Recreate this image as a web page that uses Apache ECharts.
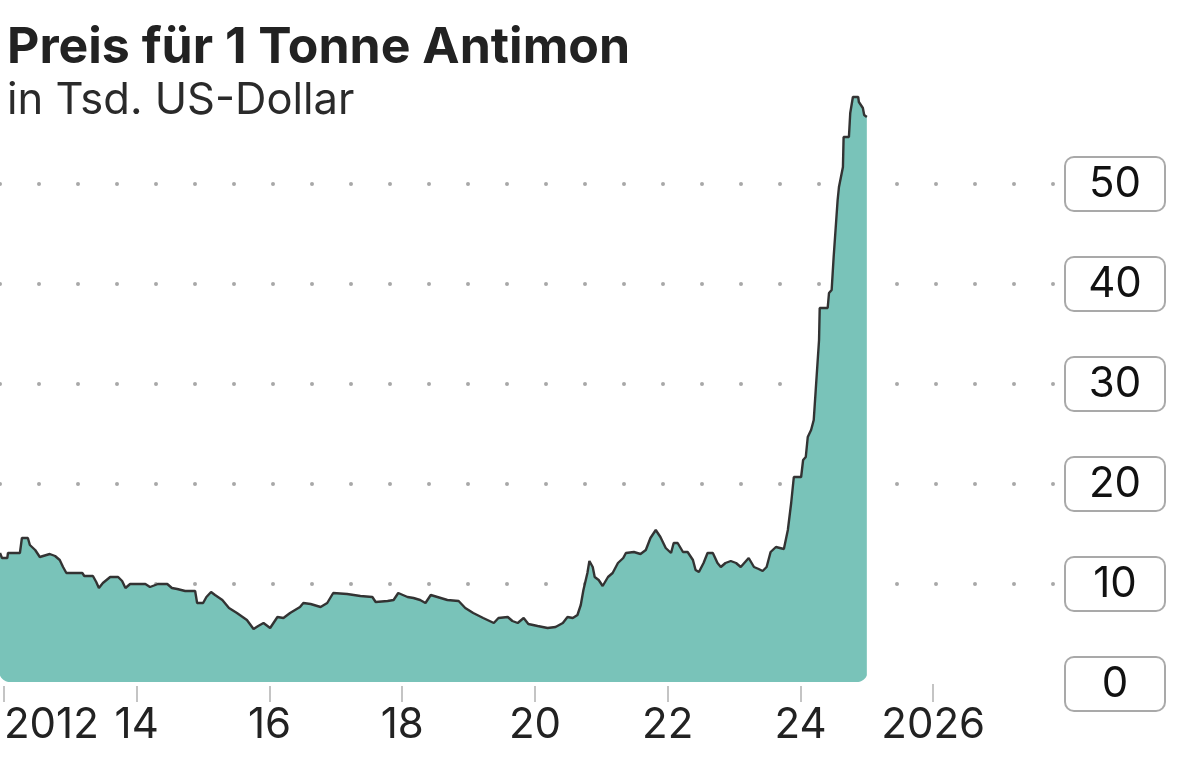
<!DOCTYPE html>
<html>
<head>
<meta charset="utf-8">
<script src="https://cdn.jsdelivr.net/npm/echarts@6/dist/echarts.min.js"></script>
<style>
html,body{margin:0;padding:0;background:#fff;}
#chart{width:1200px;height:765px;}
</style>
</head>
<body>
<div id="chart"></div>
<script>
const titleText = 'Preis für 1 Tonne Antimon';
const subtitleText = 'in Tsd. US-Dollar';

// decimal years (x) and price in thousand USD (y)
const years = [
2011.94,2011.97,2012.05,2012.06,2012.24,2012.27,2012.36,2012.39,2012.47,2012.54,2012.69,2012.77,2012.84,2012.89,2012.94,
2013.18,2013.21,2013.34,2013.39,2013.43,2013.49,2013.60,2013.72,2013.78,2013.83,2013.90,
2014.13,2014.20,2014.32,2014.46,2014.53,2014.61,2014.73,2014.88,2014.91,
2015.00,2015.05,2015.12,2015.18,2015.29,2015.39,2015.51,2015.66,2015.76,2015.83,2015.91,
2016.01,2016.12,2016.21,2016.31,2016.46,2016.51,2016.62,2016.77,2016.87,2016.96,
2017.17,2017.37,2017.55,2017.60,2017.78,2017.87,2017.94,
2018.08,2018.17,2018.27,2018.35,2018.43,2018.53,2018.68,2018.85,2018.95,
2019.07,2019.22,2019.38,2019.45,2019.59,2019.66,2019.74,2019.83,2019.90,
2020.04,2020.19,2020.31,2020.42,2020.49,2020.57,2020.64,2020.69,2020.73,2020.79,2020.82,2020.87,2020.90,2020.96,
2021.02,2021.10,2021.17,2021.25,2021.33,2021.37,2021.49,2021.59,2021.67,2021.74,2021.82,2021.89,2021.97,
2022.05,2022.09,2022.15,2022.23,2022.30,2022.38,2022.42,2022.47,2022.54,2022.60,2022.68,2022.75,2022.80,2022.87,2022.95,
2023.03,2023.10,2023.18,2023.22,2023.30,2023.37,2023.43,2023.49,2023.55,2023.63,2023.75,2023.81,2023.86,2023.90,
2024.01,2024.04,2024.08,2024.11,2024.16,2024.20,2024.23,2024.28,2024.29,2024.41,2024.43,2024.47,2024.50,2024.56,2024.58,
2024.64,2024.65,2024.73,2024.75,2024.79,2024.87,2024.88,2024.94,2024.96,2025.00
];
const prices = [
13.1,12.6,12.6,13.1,13.1,14.6,14.6,13.9,13.4,12.7,13.0,12.8,12.4,11.7,11.1,
11.1,10.8,10.8,10.2,9.6,10.1,10.7,10.7,10.3,9.6,10.0,
10.0,9.7,10.0,10.0,9.6,9.5,9.3,9.3,8.1,
8.1,8.7,9.2,8.9,8.4,7.6,7.1,6.4,5.5,5.8,6.1,
5.6,6.7,6.6,7.1,7.7,8.1,8.0,7.7,8.1,9.1,
9.0,8.8,8.7,8.2,8.3,8.4,9.1,
8.7,8.6,8.4,8.1,8.9,8.7,8.4,8.3,7.6,
7.1,6.6,6.1,6.6,6.7,6.3,6.1,6.6,6.0,
5.8,5.6,5.7,6.1,6.7,6.6,6.9,7.9,9.4,11.1,12.3,11.7,10.7,10.4,
9.8,10.7,11.1,12.1,12.6,13.1,13.2,13.0,13.4,14.6,15.4,14.7,13.6,
13.1,14.1,14.1,13.2,13.2,12.4,11.4,11.2,12.1,13.1,13.1,12.1,11.7,12.1,12.3,
12.1,11.7,12.3,12.6,11.7,11.5,11.3,11.7,13.2,13.7,13.5,15.4,18.1,20.7,
20.7,22.4,22.7,24.7,25.4,26.4,29.4,34.4,37.6,37.6,39.1,39.4,42.7,48.4,49.7,
51.7,54.7,54.7,57.1,58.7,58.7,58.2,57.6,56.9,56.7
];

const xTickValues = [2012, 2014, 2016, 2018, 2020, 2022, 2024, 2026];
const xTickLabels = ['2012', '14', '16', '18', '20', '22', '24', '2026'];
const yGridValues = [10, 20, 30, 40, 50];
const yLabelValues = [0, 10, 20, 30, 40, 50];

const seriesData = years.map((y, i) => [y, prices[i]]);

const chart = echarts.init(document.getElementById('chart'), null, {renderer: 'canvas'});
const FONT = 'Inter, "Noto Sans", sans-serif';

chart.setOption({
  animation: false,
  backgroundColor: '#ffffff',
  title: {
    text: titleText,
    subtext: subtitleText,
    left: 2,
    top: 13,
    itemGap: 0,
    textStyle: {fontFamily: FONT, fontSize: 50, fontWeight: 'bold', color: '#222222', lineHeight: 60},
    subtextStyle: {fontFamily: FONT, fontSize: 43.5, fontWeight: 'normal', color: '#2a2a2a', lineHeight: 46}
  },
  grid: {left: 0, right: 144, top: 84, bottom: 81, containLabel: false},
  xAxis: {
    type: 'value',
    min: 2011.94,
    max: 2027.85,
    axisLine: {show: false},
    splitLine: {show: false},
    axisTick: {show: true, customValues: xTickValues, length: 18, lineStyle: {color: '#c4c4c4', width: 2}},
    axisLabel: {
      customValues: xTickValues,
      margin: 20,
      fontFamily: FONT,
      fontSize: 42,
      color: '#222222',
      alignMinLabel: 'left',
      formatter: function (v) {
        const idx = xTickValues.indexOf(Math.round(v));
        return idx >= 0 ? xTickLabels[idx] : '';
      }
    }
  },
  yAxis: {
    type: 'value',
    position: 'right',
    min: 0,
    max: 60,
    axisLine: {show: false},
    axisTick: {show: false, customValues: yGridValues},
    splitLine: {show: true, lineStyle: {color: '#a8a8a8', width: 4, type: [0, 39], cap: 'round'}},
    axisLabel: {
      customValues: yLabelValues,
      margin: 10,
      formatter: function (v) { return '{b|' + v + '}'; },
      rich: {
        b: {
          fontFamily: FONT,
          fontSize: 42,
          color: '#111111',
          width: 98,
          height: 52,
          lineHeight: 52,
          align: 'center',
          verticalAlign: 'middle',
          borderColor: '#a9a9a9',
          borderWidth: 2,
          borderRadius: 8,
          backgroundColor: '#ffffff'
        }
      }
    }
  },
  series: [{
    type: 'line',
    data: seriesData,
    showSymbol: false,
    symbol: 'none',
    smooth: false,
    lineStyle: {color: '#333333', width: 2.4},
    areaStyle: {color: '#79c3b9', opacity: 1},
    z: 3
  }]
});

// rounded bottom corners of the area (white masks built as polygons)
const r = 11;
const pL = chart.convertToPixel({gridIndex: 0}, [years[0], 0]);
const pR = chart.convertToPixel({gridIndex: 0}, [years[years.length - 1], 0]);
const yb = pL[1] - 2;
const xl = pL[0] - 1;
const xr = pR[0] + 1;
function cornerMask(cx, cy, startAng, cornerX, cornerY) {
  const pts = [[cornerX, cornerY]];
  for (let k = 0; k <= 12; k++) {
    const a = startAng + (Math.PI / 2) * k / 12;
    pts.push([cx + r * Math.cos(a), cy + r * Math.sin(a)]);
  }
  return pts;
}
// left: center (xl+r, yb-r), arc from angle PI (left) to PI/2 (bottom)
const leftPts = [[xl, yb + 1]];
for (let k = 0; k <= 12; k++) {
  const a = Math.PI - (Math.PI / 2) * k / 12;
  leftPts.push([xl + r + r * Math.cos(a), yb - r + r * Math.sin(a)]);
}
leftPts.push([xl + r, yb + 1]);
const rightPts = [[xr, yb + 1]];
for (let k = 0; k <= 12; k++) {
  const a = (Math.PI / 2) * k / 12;
  rightPts.push([xr - r + r * Math.cos(a), yb - r + r * Math.sin(a)]);
}
rightPts.reverse();
rightPts.unshift([xr, yb + 1]);
chart.setOption({
  graphic: [
    {type: 'polygon', z: 10, shape: {points: leftPts}, style: {fill: '#ffffff'}},
    {type: 'polygon', z: 10, shape: {points: rightPts}, style: {fill: '#ffffff'}},
    {type: 'rect', z: 10, shape: {x: xl, y: yb, width: xr - xl, height: pL[1] - yb + 2}, style: {fill: '#ffffff'}}
  ]
});
</script>
</body>
</html>
